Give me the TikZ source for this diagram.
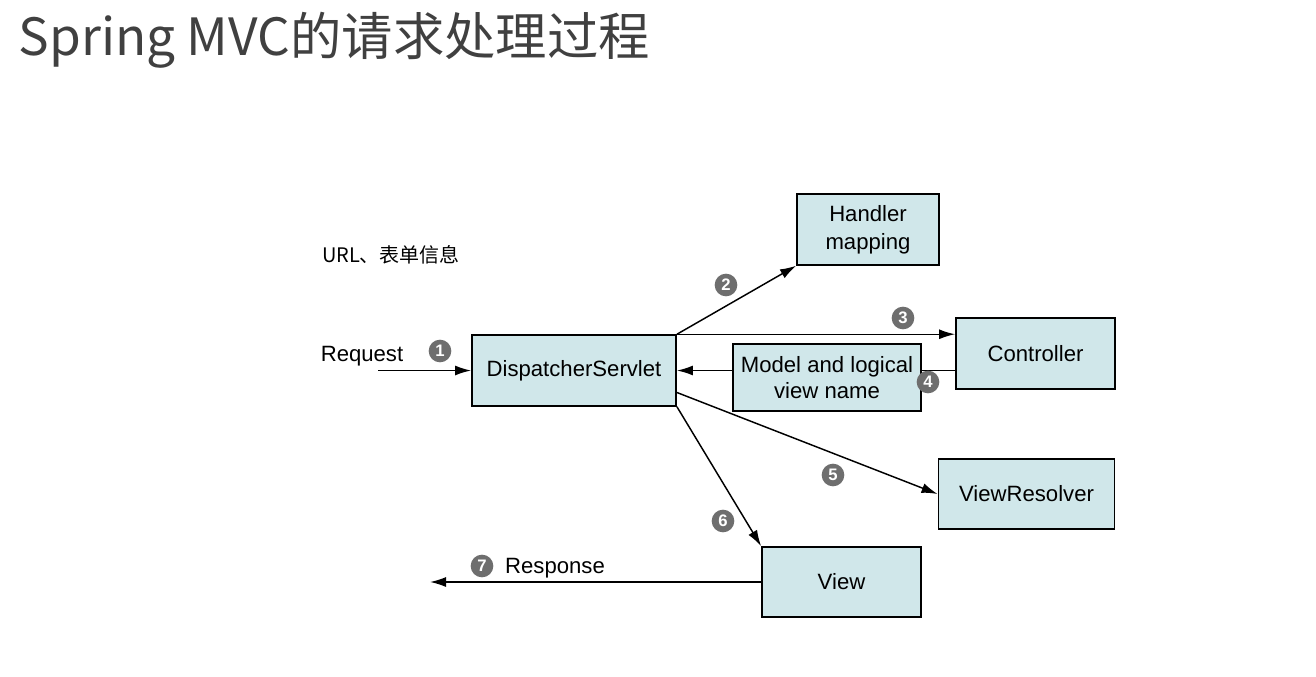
\documentclass[tikz,border=0pt]{standalone}
\usepackage{fontspec}
\setmainfont{Liberation Sans}
\newfontfamily\cjk{Noto Sans CJK SC}
\usetikzlibrary{arrows.meta}
\definecolor{boxfill}{RGB}{208,231,234}
\definecolor{numgray}{RGB}{110,110,110}
\definecolor{titlegray}{RGB}{64,64,64}
\tikzset{
  part/.style={draw=black, line width=1.4pt, fill=boxfill, inner sep=0pt,
    minimum height=53pt, align=center, font=\fontsize{16.6}{21}\selectfont},
  num/.style={circle, fill=numgray, text=white, inner sep=0pt, minimum size=17pt,
    font=\fontsize{12.5}{12.5}\selectfont\bfseries},
  flow/.style={line width=1.1pt, -{Latex[length=12pt,width=7.5pt]}},
  plain/.style={line width=1.1pt}
}
\begin{document}
\begin{tikzpicture}[x=0.75pt,y=-0.75pt]
  \useasboundingbox (0,0) rectangle (1316,676);
  % title
  \node[anchor=west, text=titlegray, font=\cjk\fontsize{38.5}{40}\selectfont] (title) at (14,40) {Spring MVC的请求处理过程};
  \node[font=\cjk\fontsize{15}{16}\selectfont] (info) at (391,255) {URL、表单信息};
  % components
  \node[part, minimum width=153pt] (ds) at (574,370.5) {DispatcherServlet};
  \node[part, minimum width=106.5pt] (hm) at (868,229.5) {Handler\\mapping};
  \node[part, minimum width=119.25pt] (ctrl) at (1035.5,353.5) {Controller};
  \node[part, minimum width=141pt, minimum height=50pt, font=\fontsize{16.6}{19.5}\selectfont] (model) at (827,377.5) {Model and logical\\view name};
  \node[part, minimum width=132pt, minimum height=52.5pt] (vr) at (1026.5,494) {ViewResolver};
  \node[part, minimum width=119.25pt, minimum height=52.5pt] (view) at (841.5,582) {View};
  % loose ends
  \coordinate (req) at (378,370.5);
  \coordinate (resp) at (430,582);
  % connectors
  \draw[flow] (req) -- (ds.west);
  \draw[flow] (ds.north east) -- (hm.south west);
  \draw[flow] (ds.north east) -- (ds.north east -| ctrl.west);
  \draw[plain] (ctrl.west |- ds) -- (model.east |- ds);
  \draw[flow] (model.west |- ds) -- (ds.east);
  \draw[flow] ([yshift=-16.5pt]ds.east) -- (vr.west);
  \draw[flow] (ds.south east) -- (view.north west);
  \draw[flow] (view.west) -- (resp);
  % texts and step numbers
  \node[font=\fontsize{16.6}{17}\selectfont] (reqtext) at (362,356) {Request};
  \node[font=\fontsize{16.6}{17}\selectfont] (resptext) at (555,568) {Response};
  \node[num] (n1) at (440,351) {1};
  \node[num] (n2) at (726,285) {2};
  \node[num] (n3) at (903,318) {3};
  \node[num] (n4) at (928,382) {4};
  \node[num] (n5) at (833,475) {5};
  \node[num] (n6) at (723,521) {6};
  \node[num] (n7) at (482,566) {7};
\end{tikzpicture}
\end{document}
